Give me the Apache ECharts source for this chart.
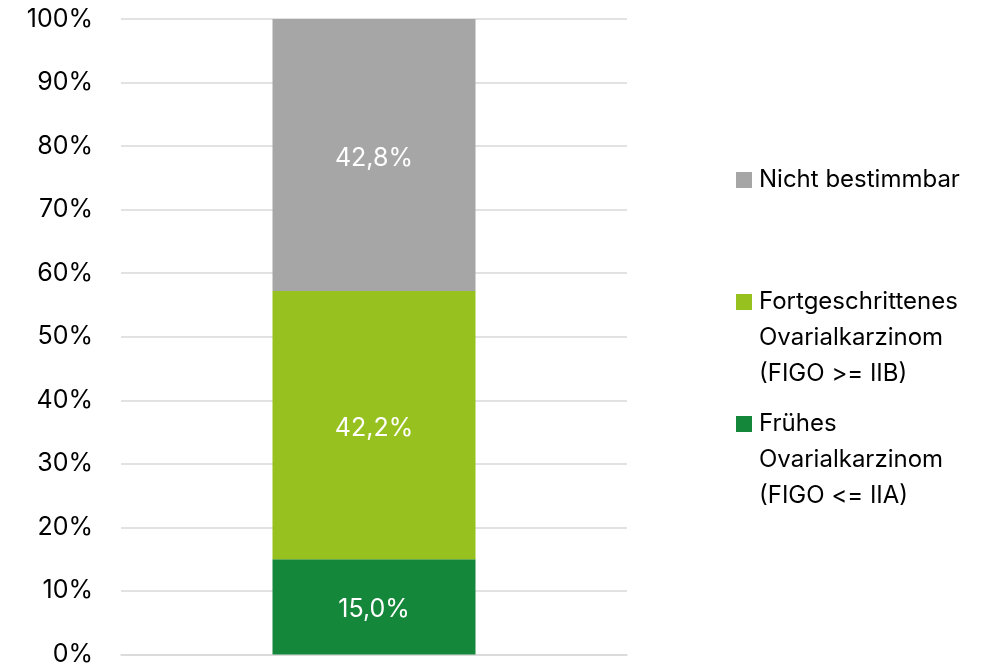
<!DOCTYPE html>
<html>
<head>
<meta charset="utf-8">
<script src="https://cdn.jsdelivr.net/npm/echarts@6/dist/echarts.min.js"></script>
<style>
  html, body { margin: 0; padding: 0; background: #fff; }
  #chart { width: 1003px; height: 667px; }
</style>
</head>
<body>
<div id="chart"></div>
<script>
// 数据
var categories = ['Gesamt'];
var seriesNames = [
  'Frühes Ovarialkarzinom (FIGO <= IIA)',
  'Fortgeschrittenes Ovarialkarzinom (FIGO >= IIB)',
  'Nicht bestimmbar'
];
var legendLines = [
  ['Frühes', 'Ovarialkarzinom', '(FIGO <= IIA)'],
  ['Fortgeschrittenes', 'Ovarialkarzinom', '(FIGO >= IIB)'],
  ['Nicht bestimmbar']
];
var fruehValues = [15.0];
var fortgValues = [42.2];
var nichtValues = [42.8];
var colors = ['#14873A', '#97C11F', '#A6A6A6'];

var FONT = 'Inter, "Noto Sans", sans-serif';
var LINE_H = 36;

var chart = echarts.init(document.getElementById('chart'), null, { renderer: 'canvas' });

function fmtPct(v) {
  return v.toFixed(1).replace('.', ',') + '%';
}

function buildSeries(name, values, color) {
  return {
    name: name,
    type: 'bar',
    stack: 'total',
    barWidth: 203,
    data: values,
    itemStyle: { color: color },
    label: {
      show: true,
      position: 'inside',
      offset: [0, 3],
      color: '#fff',
      fontSize: 25,
      fontFamily: FONT,
      formatter: function(p) { return fmtPct(p.value); }
    }
  };
}

// 图例文字垂直居中于色块，前面补空行使首行与色块对齐
function buildLegend(idx, iconCenterY) {
  var lines = legendLines[idx];
  var pad = [];
  for (var i = 1; i < lines.length; i++) pad.push(' ');
  var text = pad.concat(lines).join('\n');
  var total = (pad.length + lines.length) * LINE_H;
  return {
    data: [seriesNames[idx]],
    left: 736,
    top: iconCenterY - total / 2,
    orient: 'vertical',
    padding: 0,
    itemWidth: 16,
    itemHeight: 16,
    itemGap: 0,
    icon: 'rect',
    formatter: function() { return text; },
    textStyle: {
      fontSize: 24,
      fontFamily: FONT,
      color: '#000',
      lineHeight: LINE_H,
      padding: [0, 0, 0, 2]
    }
  };
}

var option = {
  animation: false,
  textStyle: { fontFamily: FONT },
  grid: { left: 121, right: 376, top: 19, bottom: 12, containLabel: false },
  legend: [
    buildLegend(2, 180),
    buildLegend(1, 302),
    buildLegend(0, 424)
  ],
  xAxis: {
    type: 'category',
    data: categories,
    axisLine: { lineStyle: { color: '#D9D9D9', width: 1.5 } },
    axisTick: { show: false },
    axisLabel: { show: false }
  },
  yAxis: {
    type: 'value',
    min: 0,
    max: 100,
    interval: 10,
    axisLine: { show: false },
    axisTick: { show: false },
    splitLine: { lineStyle: { color: '#D9D9D9', width: 1.5 } },
    axisLabel: {
      formatter: '{value}%',
      fontSize: 25,
      fontFamily: FONT,
      color: '#000',
      margin: 28
    }
  },
  series: [
    buildSeries(seriesNames[0], fruehValues, colors[0]),
    buildSeries(seriesNames[1], fortgValues, colors[1]),
    buildSeries(seriesNames[2], nichtValues, colors[2])
  ]
};

chart.setOption(option);
</script>
</body>
</html>
